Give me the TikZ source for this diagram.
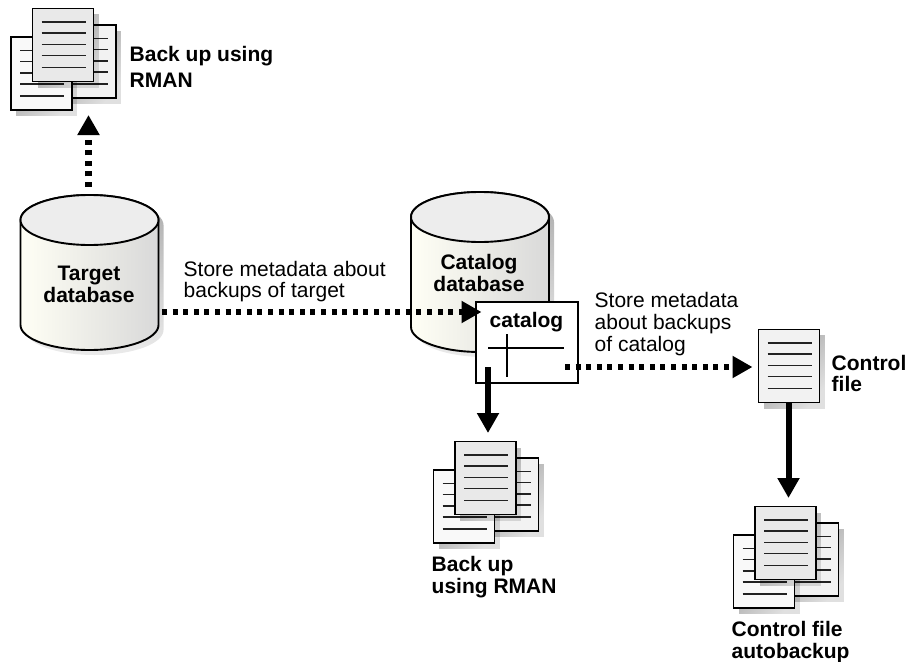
\documentclass[tikz,border=0pt]{standalone}
\usepackage{fontspec}
\setmainfont{Liberation Sans}
\usetikzlibrary{arrows.meta,fadings}
\definecolor{sheetlight}{HTML}{F9F9F9}
\definecolor{sheetmid}{HTML}{F2F2F2}
\definecolor{sheettop}{HTML}{E9E9E9}
\definecolor{ruleink}{HTML}{222222}
\tikzfading[name=shadowfade,left color=transparent!62,right color=transparent!88]
\tikzset{
  x=1pt,y=-1pt,
  dotarrow/.style={line width=6.4pt,dash pattern=on 5pt off 5.6pt,-{Triangle[length=20pt,width=21pt]}},
  solidarrow/.style={line width=6pt,-{Triangle[length=20pt,width=21pt]}},
  lab/.style={font=\fontsize{21}{21.5}\selectfont,inner sep=0pt,align=left,anchor=base west},
  blab/.style={lab,font=\fontsize{21}{21.5}\selectfont\bfseries},
  clab/.style={blab,align=center,anchor=center},
  anchorbox/.style={inner sep=0pt,outer sep=0pt,minimum width=#1},
  sheetedge/.style={draw=black,line width=1.9pt},
  ruleline/.style={draw=ruleink,line width=1.3pt},
  shade1/.style={fill=black,path fading=shadowfade,fading angle=-45},
}
\newcommand{\onesheet}[3]{% x, y, fill
  \begin{scope}[shift={(#1,#2)}]
    \fill[shade1] (5,6) rectangle (66,79);
    \fill[#3] (0,0) rectangle (61,73);
    \draw[sheetedge] (0,0) rectangle (61,73);
    \foreach \ly in {13.5,24.5,36,47,59}
      \draw[ruleline] (9,\ly) -- (53,\ly);
  \end{scope}}
\newcommand{\sheetstack}[2]{% origin
  \begin{scope}[shift={(#1,#2)}]
    \onesheet{55}{25}{sheetmid}
    \onesheet{11}{37}{sheetlight}
    \onesheet{32.5}{8.5}{sheettop}
  \end{scope}}
\newcommand{\drum}[3]{% centre x, top centre y, bottom centre y
  \path[top color=black!32,bottom color=black!8]
    (#1+5-69,#2+5) -- (#1+5-69,#3+5) arc[start angle=180,end angle=0,x radius=69,y radius=25]
    -- (#1+5+69,#2+5) arc[start angle=0,end angle=-180,x radius=69,y radius=25] -- cycle;
  \path[left color=white!96!yellow,right color=black!15,draw=black,line width=1.9pt]
    (#1-69,#2) -- (#1-69,#3) arc[start angle=180,end angle=0,x radius=69,y radius=25]
    -- (#1+69,#2) arc[start angle=0,end angle=-180,x radius=69,y radius=25] -- cycle;
  \draw[fill=black!7,line width=1.9pt] (#1,#2) ellipse[x radius=69,y radius=25];
}
\begin{document}
\begin{tikzpicture}
\useasboundingbox (0,0) rectangle (909,661);
% stacks
\sheetstack{0}{0}
\sheetstack{422.5}{433}
\sheetstack{722.5}{498}
\node[anchorbox=110pt,minimum height=107.5pt] (stackone) at (66,62.25) {};
\node[anchorbox=110pt,minimum height=107.5pt] (stacktwo) at (488.5,495.25) {};
\node[anchorbox=110pt,minimum height=107.5pt] (stackthree) at (788.5,560.25) {};
\node[blab] (stackonelab) at (129.5,87.5) {Back up using\\[4pt]RMAN};
\node[blab] (stacktwolab) at (431.5,593) {Back up\\using RMAN};
\node[blab] (stackthreelab) at (731.5,658) {Control file\\autobackup};
% cylinders
\drum{89.5}{220}{325}
\drum{480}{217}{327}
\node[anchorbox=138pt,minimum height=155pt] (targetdrum) at (89.5,272.5) {};
\node[anchorbox=138pt,minimum height=160pt] (catalogdrum) at (480,272) {};
\node[clab] (targettxt) at (89,284.5) {Target\\database};
\node[clab] (catalogtxt) at (479,273) {Catalog\\database};
% catalog box
\node[draw=black,line width=1.9pt,fill=white,minimum width=102pt,minimum height=81pt,inner sep=0pt,outer sep=0pt] (catalog) at (527,342.5) {};
\node[font=\fontsize{21}{21}\selectfont\bfseries,inner sep=0pt,anchor=base] (catalogword) at (526.5,327) {catalog};
\coordinate (hl) at (488,347.7);\coordinate (hr) at (563.5,347.7);
\coordinate (vt) at (506.7,334);\coordinate (vb) at (506.7,376.7);
\draw[line width=1.7pt] (hl) -- (hr);
\draw[line width=1.7pt] (vt) -- (vb);
% control file
\onesheet{758.5}{329.5}{sheetmid}
\node[anchorbox=61pt,minimum height=73pt] (control) at (789,366) {};
\node[blab] (controllab) at (831.5,391.5) {Control\\file};
% free labels
\node[lab] (tlabel) at (183.5,297.7) {Store metadata about\\backups of target};
\node[lab] (clabel) at (594.5,351.7) {Store metadata\\[0.6pt]about backups\\[0.6pt]of catalog};
% connectors
\draw[dotarrow] ([xshift=-1pt,yshift=8pt]targetdrum.north) -- ([xshift=22.5pt,yshift=1pt]stackone.south);
\draw[dotarrow] ([xshift=3.5pt,yshift=-39.5pt]targetdrum.east) -- ([xshift=5.5pt,yshift=30.5pt]catalog.west);
\draw[dotarrow] ([xshift=-13pt,yshift=-24.5pt]catalog.east) -- ([xshift=-6pt,yshift=-1pt]control.west);
\draw[solidarrow] ([xshift=-39pt,yshift=16pt]catalog.south) -- ([xshift=-.5pt,yshift=8.5pt]stacktwo.north);
\draw[solidarrow] ([xshift=-.5pt]control.south) -- ([yshift=8.5pt]stackthree.north);
\end{tikzpicture}
\end{document}
